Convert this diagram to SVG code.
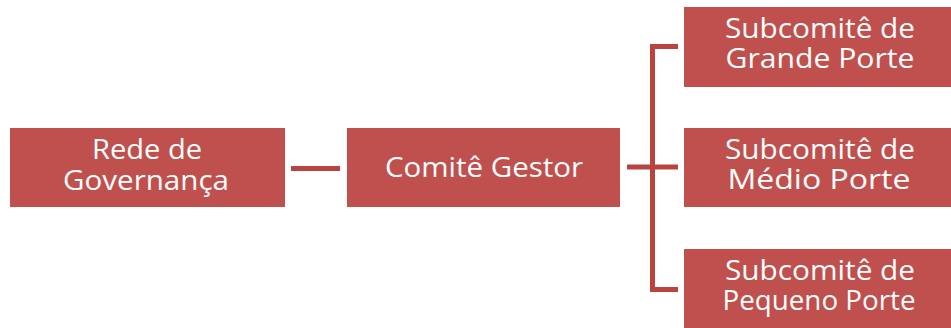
<svg xmlns="http://www.w3.org/2000/svg" width="951" height="328" viewBox="0 0 951 328">
<style>
.box{fill:#C0504D;}
.lbl{font-family:"Open Sans","Liberation Sans",sans-serif;font-size:28px;font-weight:500;fill:#FFFFFF;text-anchor:middle;}
.con{stroke:#B7443F;stroke-width:5;fill:none;stroke-linecap:butt;stroke-linejoin:miter;}
</style>
<rect width="951" height="328" fill="#FFFFFF"/>
<g id="connectors">
<line class="con" x1="291" y1="168.5" x2="340" y2="168.5"/>
<line class="con" x1="627" y1="167" x2="678" y2="167"/>
<path class="con" d="M678,46.5 H652.5 V289.5 H678"/>
</g>
<g id="rede">
<rect class="box" x="10" y="128" width="275" height="79"/>
<text class="lbl" x="147" y="159" textLength="110" lengthAdjust="spacingAndGlyphs">Rede de</text>
<text class="lbl" x="146" y="190" textLength="166" lengthAdjust="spacingAndGlyphs">Governança</text>
</g>
<g id="comite">
<rect class="box" x="347" y="128" width="273" height="79"/>
<text class="lbl" x="484" y="177" textLength="198" lengthAdjust="spacingAndGlyphs">Comitê Gestor</text>
</g>
<g id="grande">
<rect class="box" x="684" y="7" width="267" height="80"/>
<text class="lbl" x="820" y="38" textLength="190" lengthAdjust="spacingAndGlyphs">Subcomitê de</text>
<text class="lbl" x="820" y="68" textLength="189" lengthAdjust="spacingAndGlyphs">Grande Porte</text>
</g>
<g id="medio">
<rect class="box" x="684" y="128" width="267" height="79"/>
<text class="lbl" x="820" y="159" textLength="190" lengthAdjust="spacingAndGlyphs">Subcomitê de</text>
<text class="lbl" x="819" y="189" textLength="183" lengthAdjust="spacingAndGlyphs">Médio Porte</text>
</g>
<g id="pequeno">
<rect class="box" x="684" y="249" width="267" height="79"/>
<text class="lbl" x="820" y="280" textLength="190" lengthAdjust="spacingAndGlyphs">Subcomitê de</text>
<text class="lbl" x="819" y="310" textLength="193" lengthAdjust="spacingAndGlyphs">Pequeno Porte</text>
</g>
</svg>
